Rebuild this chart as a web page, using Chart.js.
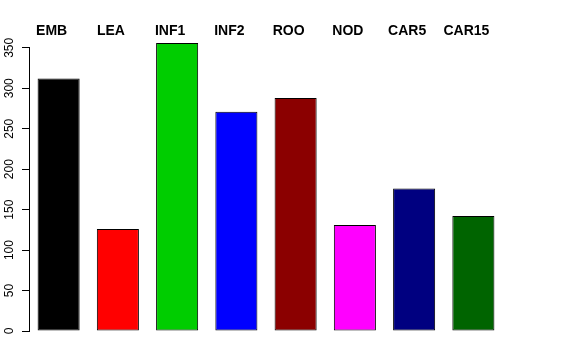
<!DOCTYPE html>
<html>
<head>
<meta charset="utf-8">
<script src="https://cdn.jsdelivr.net/npm/chart.js@4"></script>
<style>
  html, body { margin: 0; padding: 0; background: #fff; }
  #wrap { width: 576px; height: 360px; }
</style>
</head>
<body>
<div id="wrap"><canvas id="c" width="576" height="360"></canvas></div>
<script>
const categories = ["EMB", "LEA", "INF1", "INF2", "ROO", "NOD", "CAR5", "CAR15"];
const values = [312, 126, 356, 271, 288, 131, 176, 142];
const barColors = ["#000000", "#FF0000", "#00CD00", "#0000FF", "#8B0000", "#FF00FF", "#000080", "#006400"];
const yTicks = [0, 50, 100, 150, 200, 250, 300, 350];

Chart.defaults.font.family = "'Liberation Sans', Arial, Helvetica, sans-serif";
Chart.defaults.color = "#000";

new Chart(document.getElementById("c"), {
  type: "bar",
  data: {
    labels: categories,
    datasets: [{
      data: values,
      backgroundColor: barColors,
      borderColor: "#000",
      borderWidth: 1,
      borderSkipped: false,
      categoryPercentage: 1,
      barPercentage: 0.71,
      clip: false
    }]
  },
  options: {
    responsive: false,
    animation: false,
    devicePixelRatio: 1,
    layout: { padding: { left: 0, right: 73, top: 15, bottom: 29 } },
    plugins: { legend: { display: false }, tooltip: { enabled: false } },
    scales: {
      x: {
        position: "top",
        grid: { display: false, drawTicks: false },
        border: { display: false },
        ticks: {
          font: { size: 14, weight: "bold" },
          color: "#000",
          padding: 8,
          labelOffset: -7,
          maxRotation: 0,
          minRotation: 0,
          autoSkip: false
        }
      },
      y: {
        min: 0,
        max: 350,
        afterFit: (s) => { s.width = 29; },
        afterBuildTicks: (s) => { s.ticks = yTicks.map(v => ({ value: v })); },
        grid: { drawOnChartArea: false, drawTicks: true, tickLength: 7, color: "#000" },
        border: { display: true, color: "#000", width: 1 },
        ticks: {
          font: { size: 12 },
          color: "#000",
          padding: 2,
          minRotation: 90,
          maxRotation: 90,
          crossAlign: "center"
        }
      }
    }
  }
});
</script>
</body>
</html>
